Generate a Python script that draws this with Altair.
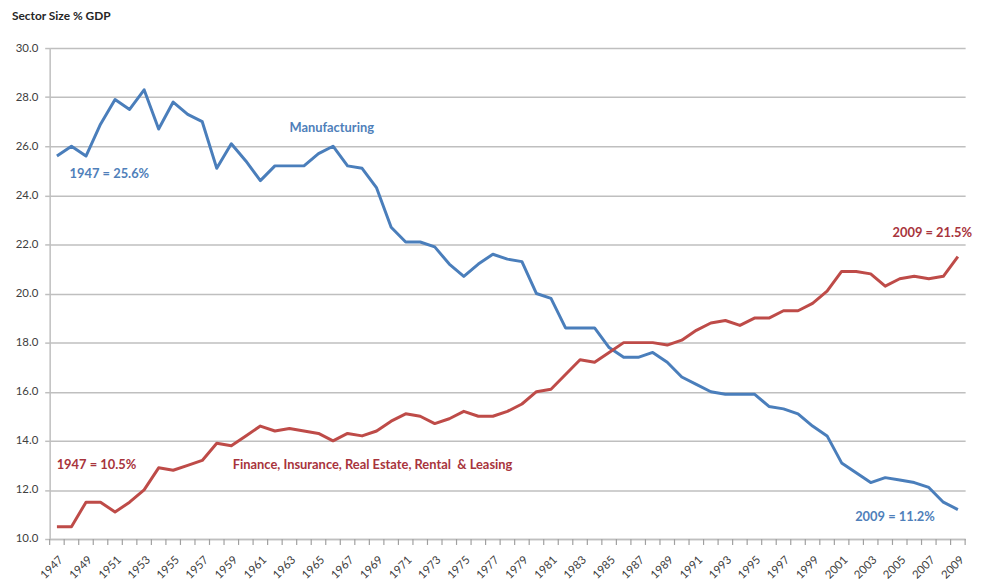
import altair as alt
import pandas as pd

years = list(range(1947, 2010))

manufacturing = [
    25.6, 26.0, 25.6, 26.9, 27.9, 27.5, 28.3, 26.7, 27.8, 27.3,
    27.0, 25.1, 26.1, 25.4, 24.6, 25.2, 25.2, 25.2, 25.7, 26.0,
    25.2, 25.1, 24.3, 22.7, 22.1, 22.1, 21.9, 21.2, 20.7, 21.2,
    21.6, 21.4, 21.3, 20.0, 19.8, 18.6, 18.6, 18.6, 17.8, 17.4,
    17.4, 17.6, 17.2, 16.6, 16.3, 16.0, 15.9, 15.9, 15.9, 15.4,
    15.3, 15.1, 14.6, 14.2, 13.1, 12.7, 12.3, 12.5, 12.4, 12.3,
    12.1, 11.5, 11.2,
]

finance = [
    10.5, 10.5, 11.5, 11.5, 11.1, 11.5, 12.0, 12.9, 12.8, 13.0,
    13.2, 13.9, 13.8, 14.2, 14.6, 14.4, 14.5, 14.4, 14.3, 14.0,
    14.3, 14.2, 14.4, 14.8, 15.1, 15.0, 14.7, 14.9, 15.2, 15.0,
    15.0, 15.2, 15.5, 16.0, 16.1, 16.7, 17.3, 17.2, 17.6, 18.0,
    18.0, 18.0, 17.9, 18.1, 18.5, 18.8, 18.9, 18.7, 19.0, 19.0,
    19.3, 19.3, 19.6, 20.1, 20.9, 20.9, 20.8, 20.3, 20.6, 20.7,
    20.6, 20.7, 21.5,
]

series_names = ["Manufacturing", "Finance, Insurance, Real Estate, Rental  & Leasing"]
series_colors = ["#4A7EBB", "#BE4B48"]

y_ticks = [10, 12, 14, 16, 18, 20, 22, 24, 26, 28, 30]
x_label_years = [y for y in years if y % 2 == 1]

ann_text = ["Manufacturing", "1947 = 25.6%", "2009 = 21.5%",
            "1947 = 10.5%", "Finance, Insurance, Real Estate, Rental\u00a0 & Leasing",
            "2009 = 11.2%"]
ann_year = [1963.0, 1947.87, 2004.5, 1946.98, 1959.1, 2001.93]
ann_value = [26.73, 24.87, 22.48, 13.03, 13.03, 10.89]
ann_color = ["#4F7FBA", "#4F7FBA", "#A8343C", "#A8343C", "#A8343C", "#4F7FBA"]

FONT = "Lato"

df = pd.DataFrame({
    "year": years * 2,
    "value": manufacturing + finance,
    "series": [series_names[0]] * len(years) + [series_names[1]] * len(years),
})
ann = pd.DataFrame({"text": ann_text, "year": ann_year, "value": ann_value, "color": ann_color})
bounds = pd.DataFrame({"b": [y - 0.5 for y in years] + [years[-1] + 0.5]})

xscale = alt.Scale(domain=[1946.5, 2009.5], nice=False, zero=False)
yscale = alt.Scale(domain=[10, 30], nice=False, zero=False)

x_axis = alt.Axis(values=x_label_years, format="d", title=None, grid=False,
                  ticks=False, labelAngle=-45, labelAlign="right",
                  labelBaseline="top", labelPadding=15, labelOverlap=False,
                  labelFont=FONT, labelFontSize=11.5, labelColor="#404040",
                  domainColor="#BFBFBF", domainWidth=1.5)
y_axis = alt.Axis(values=y_ticks, format=".1f", title=None,
                  grid=True, gridColor="#BFBFBF", gridWidth=1.5,
                  tickColor="#BFBFBF", tickSize=5, tickWidth=1.5,
                  labelPadding=7, labelFont=FONT, labelFontSize=11.5,
                  labelColor="#404040", domainColor="#BFBFBF", domainWidth=1.5)

lines = alt.Chart(df).mark_line(strokeWidth=3, strokeJoin="round").encode(
    x=alt.X("year:Q", scale=xscale, axis=x_axis),
    y=alt.Y("value:Q", scale=yscale, axis=y_axis),
    color=alt.Color("series:N", scale=alt.Scale(domain=series_names, range=series_colors),
                    legend=None),
)

ticks = alt.Chart(bounds).mark_rule(color="#A0A0A0", strokeWidth=1.2).encode(
    x=alt.X("b:Q", scale=xscale, axis=x_axis),
    y=alt.value(495),
    y2=alt.value(501),
)

labels = alt.Chart(ann).mark_text(align="left", baseline="middle", font=FONT,
                                  fontSize=13, fontWeight="bold").encode(
    x=alt.X("year:Q", scale=xscale, axis=x_axis),
    y=alt.Y("value:Q", scale=yscale, axis=y_axis),
    text="text:N",
    color=alt.Color("color:N", scale=None),
)

chart = alt.layer(lines, ticks, labels).properties(
    width=923,
    height=495,
    padding={"left": 42, "top": 38, "right": 16, "bottom": 44},
    autosize=alt.AutoSizeParams(type="none"),
    title=alt.TitleParams("Sector Size % GDP", anchor="start", frame="group", dx=-38,
                          offset=19, font=FONT, fontSize=12, fontWeight="bold",
                          color="#262626"),
).configure_view(stroke=None).configure_axisX(labelOverlap=False)

chart.save("out.html", embed_options={"renderer": "svg", "actions": False})
